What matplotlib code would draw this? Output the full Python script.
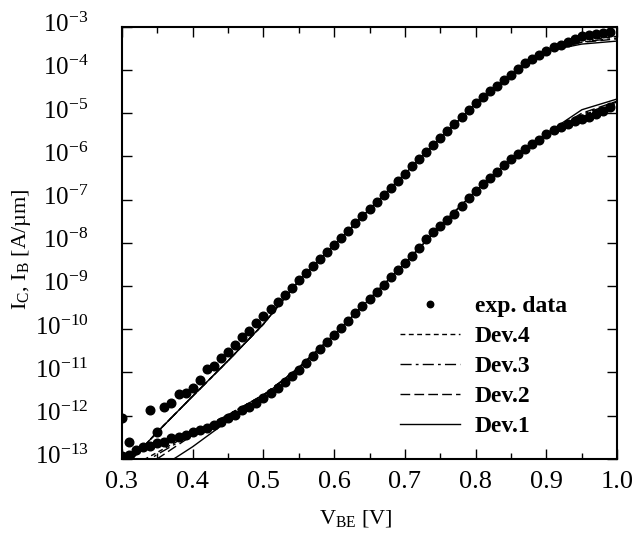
import numpy as np
import matplotlib
matplotlib.use("Agg")
import matplotlib.pyplot as plt
import matplotlib.transforms as mtransforms
from matplotlib.ticker import MultipleLocator, FixedLocator
from matplotlib.legend_handler import HandlerLine2D

plt.rcParams['font.family'] = ['Liberation Serif', 'DejaVu Serif']
plt.rcParams['mathtext.fontset'] = 'custom'
plt.rcParams['mathtext.rm'] = 'Liberation Serif'
plt.rcParams['mathtext.it'] = 'Liberation Serif:italic'
plt.rcParams['mathtext.bf'] = 'Liberation Serif:bold'

# measured points, V_BE step 0.01 V, values are log10(I)
v_exp = [0.30, 0.31, 0.32, 0.33, 0.34, 0.35, 0.36, 0.37, 0.38, 0.39,
         0.40, 0.41, 0.42, 0.43, 0.44, 0.45, 0.46, 0.47, 0.48, 0.49,
         0.50, 0.51, 0.52, 0.53, 0.54, 0.55, 0.56, 0.57, 0.58, 0.59,
         0.60, 0.61, 0.62, 0.63, 0.64, 0.65, 0.66, 0.67, 0.68, 0.69,
         0.70, 0.71, 0.72, 0.73, 0.74, 0.75, 0.76, 0.77, 0.78, 0.79,
         0.80, 0.81, 0.82, 0.83, 0.84, 0.85, 0.86, 0.87, 0.88, 0.89,
         0.90, 0.91, 0.92, 0.93, 0.94, 0.95, 0.96, 0.97, 0.98, 0.99]
ic_exp = [-12.06, -12.60, np.nan, np.nan, -11.87, -12.37, -11.80, -11.70, -11.50, -11.48,
          -11.36, -11.17, -10.92, -10.86, -10.67, -10.52, -10.36, -10.18, -10.03, -9.86,
          -9.70, -9.53, -9.37, -9.20, -9.04, -8.87, -8.71, -8.54, -8.38, -8.21,
          -8.05, -7.88, -7.72, -7.55, -7.39, -7.22, -7.06, -6.89, -6.73, -6.56,
          -6.40, -6.22, -6.06, -5.90, -5.74, -5.58, -5.41, -5.24, -5.09, -4.93,
          -4.77, -4.62, -4.49, -4.36, -4.23, -4.11, -3.97, -3.84, -3.74, -3.65,
          -3.56, -3.47, -3.41, -3.36, -3.29, -3.22, -3.19, -3.16, -3.14, -3.13]
ib_exp = [-12.93, -12.91, -12.79, -12.73, -12.70, -12.64, -12.60, -12.52, -12.50, -12.45,
          -12.39, -12.33, -12.28, -12.21, -12.14, -12.06, -11.98, -11.88, -11.79, -11.71,
          -11.60, -11.48, -11.36, -11.23, -11.08, -10.94, -10.78, -10.63, -10.46, -10.30,
          -10.13, -9.97, -9.80, -9.63, -9.47, -9.30, -9.13, -8.97, -8.80, -8.64,
          -8.47, -8.30, -8.12, -7.92, -7.76, -7.61, -7.47, -7.33, -7.15, -6.96,
          -6.80, -6.65, -6.50, -6.36, -6.21, -6.07, -5.95, -5.84, -5.72, -5.61,
          -5.49, -5.38, -5.32, -5.26, -5.19, -5.13, -5.08, -5.02, -4.95, -4.85]

# simulated devices, V_BE step 0.05 V, log10(I)
v_sim = [0.30, 0.35, 0.40, 0.45, 0.50, 0.55, 0.60, 0.65, 0.70, 0.75, 0.80, 0.85, 0.90, 0.95, 1.00]
ic_dev1 = [-13.25, -12.38, -11.55, -10.73, -9.88, -8.88, -8.05, -7.22, -6.40, -5.58, -4.78, -4.12, -3.56, -3.40, -3.33]
ic_dev2 = [-13.25, -12.38, -11.55, -10.73, -9.88, -8.88, -8.05, -7.22, -6.40, -5.58, -4.78, -4.12, -3.55, -3.36, -3.28]
ic_dev3 = [-13.25, -12.38, -11.55, -10.73, -9.88, -8.88, -8.05, -7.22, -6.40, -5.58, -4.78, -4.12, -3.55, -3.35, -3.26]
ic_dev4 = [-13.25, -12.38, -11.55, -10.73, -9.88, -8.88, -8.05, -7.22, -6.40, -5.58, -4.78, -4.12, -3.54, -3.32, -3.22]
ib_dev1 = [-13.80, -13.25, -12.72, -12.12, -11.55, -10.88, -10.12, -9.30, -8.47, -7.61, -6.80, -6.07, -5.47, -4.92, -4.67]
ib_dev2 = [-13.55, -13.00, -12.45, -11.98, -11.52, -10.90, -10.13, -9.30, -8.47, -7.61, -6.80, -6.07, -5.48, -5.00, -4.72]
ib_dev3 = [-13.40, -12.90, -12.42, -11.98, -11.52, -10.90, -10.13, -9.30, -8.47, -7.61, -6.80, -6.07, -5.49, -5.03, -4.74]
ib_dev4 = [-13.30, -12.85, -12.40, -11.98, -11.52, -10.90, -10.13, -9.30, -8.47, -7.61, -6.80, -6.07, -5.49, -5.05, -4.77]

dev_labels = ['Dev.1', 'Dev.2', 'Dev.3', 'Dev.4']
dev_styles = ['-', (0, (7, 3)), (0, (8, 3, 2, 3)), (0, (3.5, 2.5))]


class DotAtEnd(HandlerLine2D):
    # legend dot sits at the right end of the handle, like the original
    def get_xdata(self, legend, xdescent, ydescent, width, height, fontsize):
        xdata, xm = super().get_xdata(legend, xdescent, ydescent, width, height, fontsize)
        return xdata, np.array([width - xdescent - 2.0])


fig = plt.figure(figsize=(6.35, 5.36), dpi=100)
ax = fig.add_axes([0.192, 0.144, 0.78, 0.806])

ic_sims = [ic_dev1, ic_dev2, ic_dev3, ic_dev4]
ib_sims = [ib_dev1, ib_dev2, ib_dev3, ib_dev4]
handles = {}
for lab, ls, ic, ib in zip(dev_labels, dev_styles, ic_sims, ib_sims):
    h, = ax.plot(v_sim, 10.0 ** np.array(ic), color='black', lw=1.0, ls=ls, label=lab)
    ax.plot(v_sim, 10.0 ** np.array(ib), color='black', lw=1.0, ls=ls)
    handles[lab] = h

pts, = ax.plot(v_exp, 10.0 ** np.array(ic_exp), 'o', color='black', ms=6.2, mec='black', label='exp. data')
ax.plot(v_exp, 10.0 ** np.array(ib_exp), 'o', color='black', ms=6.2, mec='black')

ax.set_yscale('log')
ax.set_xlim(0.3, 1.0)
ax.set_ylim(1e-13, 1e-3)
ax.xaxis.set_minor_locator(MultipleLocator(0.05))
ax.set_xticks([0.3, 0.4, 0.5, 0.6, 0.7, 0.8, 0.9, 1.0])
ax.set_xticklabels(['0.3', '0.4', '0.5', '0.6', '0.7', '0.8', '0.9', '1.0'])
ax.yaxis.set_major_locator(FixedLocator([10.0 ** k for k in range(-13, -2)]))
ax.yaxis.set_minor_locator(FixedLocator([]))
ax.set_yticklabels([r'$10^{%d}$' % k for k in range(-13, -2)])

ax.tick_params(which='both', direction='in', top=True, right=True, width=1.0)
ax.tick_params(which='major', length=7)
ax.tick_params(which='minor', length=4)
ax.tick_params(axis='x', labelsize=19, pad=9)
ax.tick_params(axis='y', labelsize=18, pad=24)
for sp in ax.spines.values():
    sp.set_linewidth(1.5)

# lift the decade labels a little so the "10" sits on the tick
shift = mtransforms.ScaledTranslation(0, 3 / 72.0, fig.dpi_scale_trans)
for t in ax.get_yticklabels():
    t.set_transform(t.get_transform() + shift)

ax.set_xlabel(r'V$_{\mathrm{BE}}$ [V]', fontsize=16)
ax.xaxis.set_label_coords(0.473, -0.115)
ax.set_ylabel(r'I$_{\mathrm{C}}$, I$_{\mathrm{B}}$ [A/µm]', fontsize=16)
ax.yaxis.set_label_coords(-0.18, 0.484)

leg_handles = [pts, handles['Dev.4'], handles['Dev.3'], handles['Dev.2'], handles['Dev.1']]
leg = ax.legend(leg_handles, [h.get_label() for h in leg_handles],
                loc='lower left', bbox_to_anchor=(0.562, 0.05), frameon=False,
                prop={'weight': 'bold', 'size': 17}, handlelength=2.55,
                borderpad=0.0, borderaxespad=0.0,
                markerscale=0.75, labelspacing=0.36, handletextpad=0.6,
                handler_map={pts: DotAtEnd(numpoints=1)})

fig.savefig('out.png', dpi=100)
